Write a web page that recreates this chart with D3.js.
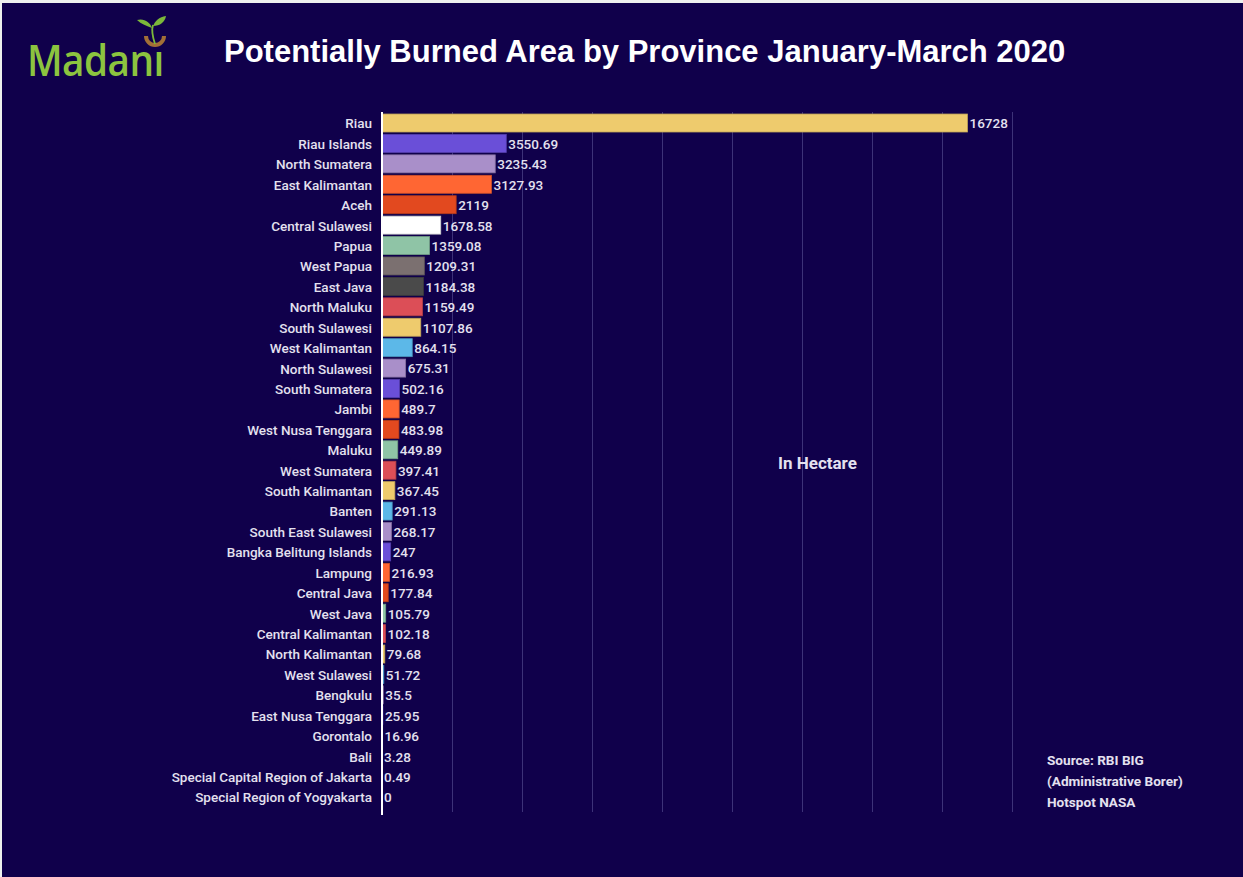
<!DOCTYPE html>
<html>
<head>
<meta charset="utf-8">
<script src="https://cdn.jsdelivr.net/npm/d3@7"></script>
<style>
  html, body { margin: 0; padding: 0; background: #eef0ee; }
  svg { display: block; }
</style>
</head>
<body>
<svg id="chart" width="1243" height="877"></svg>
<script>
// Provinces, sorted by potentially burned area (hectares)
const provinces = [
  "Riau", "Riau Islands", "North Sumatera", "East Kalimantan", "Aceh",
  "Central Sulawesi", "Papua", "West Papua", "East Java", "North Maluku",
  "South Sulawesi", "West Kalimantan", "North Sulawesi", "South Sumatera", "Jambi",
  "West Nusa Tenggara", "Maluku", "West Sumatera", "South Kalimantan", "Banten",
  "South East Sulawesi", "Bangka Belitung Islands", "Lampung", "Central Java", "West Java",
  "Central Kalimantan", "North Kalimantan", "West Sulawesi", "Bengkulu", "East Nusa Tenggara",
  "Gorontalo", "Bali", "Special Capital Region of Jakarta", "Special Region of Yogyakarta"
];
const areas = [
  16728, 3550.69, 3235.43, 3127.93, 2119,
  1678.58, 1359.08, 1209.31, 1184.38, 1159.49,
  1107.86, 864.15, 675.31, 502.16, 489.7,
  483.98, 449.89, 397.41, 367.45, 291.13,
  268.17, 247, 216.93, 177.84, 105.79,
  102.18, 79.68, 51.72, 35.5, 25.95,
  16.96, 3.28, 0.49, 0
];
const barColors = [
  "#eecb6d", "#6a4fd8", "#a98fc9", "#ff6633", "#e2491f",
  "#ffffff", "#8fc4a6", "#7b7070", "#4a4a4a", "#dc4e57",
  "#eecb6d", "#5cb8e8", "#a98fc9", "#6a4fd8", "#ff6633",
  "#e2491f", "#8fc4a6", "#dc4e57", "#eecb6d", "#5cb8e8",
  "#a98fc9", "#6a4fd8", "#ff6633", "#e2491f", "#8fc4a6",
  "#dc4e57", "#eecb6d", "#5cb8e8", "#a98fc9", "#6a4fd8",
  "#dc4e57", "#e2491f", "#8fc4a6", "#dc4e57"
];
const xTicks = [0, 2000, 4000, 6000, 8000, 10000, 12000, 14000, 16000, 18000];

const title = "Potentially Burned Area by Province January-March 2020";
const unitNote = "In Hectare";
const sourceLines = ["Source: RBI BIG", "(Administrative Borer)", "Hotspot NASA"];

const svg = d3.select("#chart");
const bg = "#10004b";
const textCol = "#e4e1ef";
const font = "Roboto, 'Noto Sans', sans-serif";

svg.append("rect").attr("x", 2).attr("y", 3).attr("width", 1241).attr("height", 874).attr("fill", bg);

// Logo: wordmark whose final "i" grows a sprout from a seed
const logo = svg.append("g");
logo.append("text")
  .attr("transform", "translate(27,76) scale(0.9,1)")
  .attr("font-family", "'Open Sans', 'Noto Sans', sans-serif")
  .attr("font-size", 43).attr("font-weight", 600)
  .attr("fill", "#8cc43f").attr("letter-spacing", -0.6)
  .text("Madan\u0131");
logo.append("path")
  .attr("d", "M146,36 A9,9 0 0 0 164,36")
  .attr("fill", "none").attr("stroke", "#a26f37").attr("stroke-width", 4);
logo.append("path")
  .attr("d", "M155,44 C153,38 151,31 153,25")
  .attr("fill", "none").attr("stroke", "#7cb83a").attr("stroke-width", 1.8);
logo.append("path")
  .attr("d", "M152,28 C147,26 141,24 137,20 C144,18 150,22 152,28 Z")
  .attr("fill", "#7cb83a");
logo.append("path")
  .attr("d", "M153,26 C155,21 159,17 166,16 C165,22 160,26 153,26 Z")
  .attr("fill", "#7cb83a");

svg.append("text")
  .attr("x", 224).attr("y", 62)
  .attr("font-family", "'Liberation Sans', Arial, sans-serif")
  .attr("font-size", 31).attr("font-weight", 700)
  .attr("fill", "#ffffff")
  .text(title);

const x = d3.scaleLinear().domain([0, 18000]).range([382, 1012]);
const y = d3.scaleBand().domain(provinces).range([112.8, 807.2]).paddingInner(0.12).paddingOuter(0.06);

// Vertical gridlines
svg.append("g")
  .attr("transform", "translate(0,812)")
  .call(d3.axisBottom(x).tickValues(xTicks).tickSize(-700).tickFormat(""))
  .call(g => g.select(".domain").remove())
  .call(g => g.selectAll(".tick line").attr("stroke", "#3d3278").attr("stroke-width", 1));

// Bars
svg.append("g").selectAll("rect")
  .data(provinces)
  .join("rect")
  .attr("x", x(0))
  .attr("y", d => y(d))
  .attr("width", (d, i) => x(areas[i]) - x(0))
  .attr("height", y.bandwidth())
  .attr("fill", (d, i) => barColors[i])
  .attr("stroke", (d, i) => d3.color(barColors[i]).darker(0.6))
  .attr("stroke-width", 0.8);

// Category axis
svg.append("g")
  .attr("transform", `translate(${x(0)},0)`)
  .call(d3.axisLeft(y).tickSize(0).tickPadding(10))
  .call(g => g.select(".domain").attr("stroke", "#ffffff").attr("stroke-width", 2)
    .attr("d", "M0,112V815"))
  .call(g => g.selectAll("text")
    .attr("fill", textCol)
    .attr("font-family", font)
    .attr("font-size", 13.5)
    .attr("font-weight", 500)
    .attr("dy", "0.4em"));

// Value labels
svg.append("g").selectAll("text")
  .data(provinces)
  .join("text")
  .attr("x", (d, i) => x(areas[i]) + 2)
  .attr("y", d => y(d) + y.bandwidth() / 2)
  .attr("dy", "0.4em")
  .attr("fill", textCol)
  .attr("font-family", font)
  .attr("font-size", 13.5)
  .attr("font-weight", 500)
  .text((d, i) => areas[i]);

svg.append("text")
  .attr("x", 778).attr("y", 469)
  .attr("font-family", font).attr("font-size", 17).attr("font-weight", 700)
  .attr("fill", textCol)
  .text(unitNote);

svg.append("g").selectAll("text")
  .data(sourceLines)
  .join("text")
  .attr("x", 1047)
  .attr("y", (d, i) => 765 + i * 21)
  .attr("font-family", font).attr("font-size", 13.6).attr("font-weight", 700)
  .attr("fill", textCol)
  .text(d => d);
</script>
</body>
</html>
